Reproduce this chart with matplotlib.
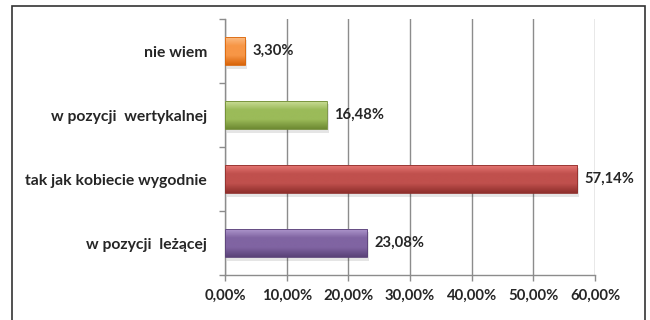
import numpy as np
import matplotlib.pyplot as plt
from matplotlib.colors import LinearSegmentedColormap
from matplotlib.patches import Rectangle

# data (top to bottom as in the chart)
categories = ['nie wiem', 'w pozycji  wertykalnej', 'tak jak kobiecie wygodnie', 'w pozycji  leżącej']
values = [3.30, 16.48, 57.14, 23.08]
value_labels = ['3,30%', '16,48%', '57,14%', '23,08%']
tick_vals = [0, 10, 20, 30, 40, 50, 60]
tick_labels = ['0,00%', '10,00%', '20,00%', '30,00%', '40,00%', '50,00%', '60,00%']

# light / base / dark shades for each bar
shades = [
    ('#fcc08a', '#f79646', '#d9650a'),
    ('#cfe09d', '#9bbb59', '#6e8a32'),
    ('#ea7a77', '#c0504d', '#8f2f2c'),
    ('#b29bd0', '#8064a2', '#5a4278'),
]

plt.rcParams['font.family'] = ['Lato', 'DejaVu Sans']
text_col = '#262626'
grid_col = '#8c8c8c'

fig = plt.figure(figsize=(6.5, 3.2), dpi=100)
ax = fig.add_axes([0.3462, 0.1406, 0.5692, 0.8])

# outer frame of the chart object
fig.patches.append(Rectangle((12 / 650, -0.05), 633 / 650, 1.05 - 6 / 320,
                             transform=fig.transFigure, fill=False,
                             edgecolor='#333333', linewidth=1.2))

y = np.arange(len(categories))
bar_h = 0.45

# soft drop shadow (below and right of each bar)
ax.barh(y + 0.05, values, height=bar_h, left=0.3, color='#000000', alpha=0.10, zorder=2)
bars = ax.barh(y, values, height=bar_h, color=[s[1] for s in shades], zorder=3)

# vertical gradient fill clipped to each bar
grad = np.linspace(0, 1, 64).reshape(-1, 1)
for bar, (light, base, dark) in zip(bars, shades):
    cmap = LinearSegmentedColormap.from_list('g', [light, base, base, dark])
    x0, y0 = bar.get_x(), bar.get_y()
    w, h = bar.get_width(), bar.get_height()
    im = ax.imshow(grad, cmap=cmap, aspect='auto', origin='upper',
                   extent=(x0, x0 + w, y0 + h, y0), zorder=4)
    im.set_clip_path(bar)
    bar.set_edgecolor(dark)
    bar.set_linewidth(0.6)
    bar.set_facecolor('none')
    bar.set_zorder(5)

for yi, v, lab in zip(y, values, value_labels):
    ax.text(v + 1.2, yi, lab, va='center', ha='left', fontsize=10.6,
            fontweight='bold', color=text_col, zorder=6)

ax.set_xlim(0, 60)
ax.set_ylim(len(categories) - 0.5, -0.5)

ax.set_xticks(tick_vals)
ax.set_xticklabels(tick_labels, fontsize=10.7, fontweight='bold', color=text_col)
ax.set_yticks(y)
ax.set_yticklabels(categories, fontsize=11.3, fontweight='bold', color=text_col)
ax.tick_params(axis='y', which='major', length=0, pad=13)
ax.set_yticks(np.arange(len(categories) + 1) - 0.5, minor=True)
ax.tick_params(axis='y', which='minor', length=4, color=grid_col, width=1)
ax.tick_params(axis='x', length=4, color=grid_col, width=1, pad=6)

ax.grid(axis='x', color=grid_col, linewidth=1, zorder=0)
ax.set_axisbelow(True)
for side in ['top', 'right']:
    ax.spines[side].set_visible(False)
for side in ['left', 'bottom']:
    ax.spines[side].set_color(grid_col)
    ax.spines[side].set_linewidth(1)

fig.savefig('out.png', dpi=100)
